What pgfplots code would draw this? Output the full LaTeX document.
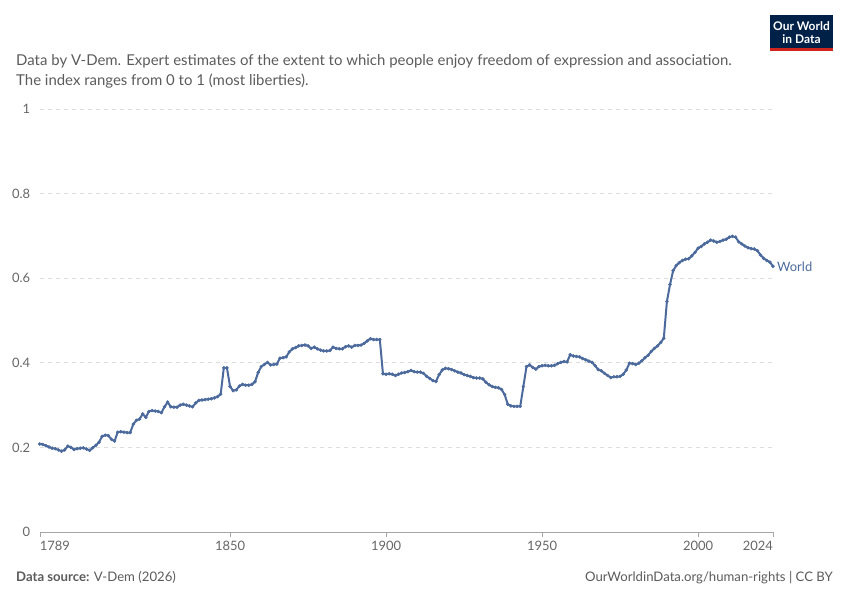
\documentclass[border=0pt]{standalone}
\usepackage{fontspec}
\setmainfont{Lato}
\usepackage{pgfplots}
\usepackage{pgfplotstable}
\pgfplotsset{compat=1.18}
\definecolor{owid}{HTML}{4C6A9C}
\definecolor{txtgray}{HTML}{5B5B5B}
\definecolor{tickgray}{HTML}{666666}
\definecolor{gridgray}{HTML}{DDDDDD}
\definecolor{navy}{HTML}{002147}
\definecolor{owidred}{HTML}{CE261E}
\pgfplotstableread{
year value
1789 .208
1790 .207
1791 .204
1792 .201
1793 .198
1794 .197
1795 .194
1796 .191
1797 .194
1798 .203
1799 .200
1800 .195
1801 .197
1802 .198
1803 .199
1804 .196
1805 .193
1806 .199
1807 .205
1808 .212
1809 .226
1810 .229
1811 .228
1812 .219
1813 .215
1814 .236
1815 .237
1816 .236
1817 .235
1818 .235
1819 .255
1820 .264
1821 .267
1822 .279
1823 .271
1824 .285
1825 .287
1826 .286
1827 .285
1828 .282
1829 .296
1830 .307
1831 .296
1832 .295
1833 .295
1834 .300
1835 .302
1836 .300
1837 .298
1838 .296
1839 .305
1840 .311
1841 .312
1842 .313
1843 .314
1844 .315
1845 .317
1846 .320
1847 .326
1848 .388
1849 .388
1850 .344
1851 .334
1852 .336
1853 .345
1854 .349
1855 .347
1856 .347
1857 .349
1858 .355
1859 .377
1860 .391
1861 .396
1862 .401
1863 .395
1864 .396
1865 .397
1866 .411
1867 .412
1868 .414
1869 .426
1870 .433
1871 .436
1872 .440
1873 .441
1874 .442
1875 .440
1876 .434
1877 .437
1878 .433
1879 .430
1880 .428
1881 .428
1882 .429
1883 .437
1884 .434
1885 .433
1886 .433
1887 .438
1888 .440
1889 .437
1890 .441
1891 .441
1892 .442
1893 .446
1894 .452
1895 .457
1896 .455
1897 .455
1898 .455
1899 .374
1900 .373
1901 .374
1902 .373
1903 .370
1904 .373
1905 .376
1906 .377
1907 .379
1908 .382
1909 .379
1910 .378
1911 .378
1912 .375
1913 .368
1914 .363
1915 .358
1916 .356
1917 .372
1918 .383
1919 .387
1920 .386
1921 .384
1922 .381
1923 .378
1924 .376
1925 .372
1926 .370
1927 .368
1928 .365
1929 .364
1930 .364
1931 .362
1932 .354
1933 .348
1934 .344
1935 .342
1936 .341
1937 .337
1938 .325
1939 .302
1940 .298
1941 .297
1942 .297
1943 .297
1944 .344
1945 .391
1946 .395
1947 .389
1948 .385
1949 .391
1950 .393
1951 .394
1952 .393
1953 .393
1954 .394
1955 .398
1956 .401
1957 .403
1958 .402
1959 .419
1960 .416
1961 .415
1962 .414
1963 .410
1964 .407
1965 .404
1966 .401
1967 .393
1968 .384
1969 .381
1970 .375
1971 .370
1972 .365
1973 .367
1974 .367
1975 .368
1976 .373
1977 .383
1978 .399
1979 .398
1980 .396
1981 .399
1982 .405
1983 .412
1984 .418
1985 .427
1986 .434
1987 .440
1988 .448
1989 .458
1990 .545
1991 .585
1992 .618
1993 .630
1994 .637
1995 .642
1996 .645
1997 .646
1998 .653
1999 .661
2000 .671
2001 .675
2002 .681
2003 .685
2004 .690
2005 .688
2006 .685
2007 .687
2008 .690
2009 .692
2010 .697
2011 .699
2012 .697
2013 .686
2014 .681
2015 .676
2016 .672
2017 .670
2018 .669
2019 .665
2020 .655
2021 .647
2022 .642
2023 .638
2024 .628
}\worlddata
\begin{document}
\begin{tikzpicture}
\path[use as bounding box] (0bp,0bp) rectangle (850bp,600bp);
% subtitle
\node[anchor=base west, inner sep=0, text=txtgray, font=\fontsize{15}{17}\selectfont] at (16bp,534bp) {Data by V-Dem. Expert estimates of the extent to which people enjoy freedom of expression and association.};
\node[anchor=base west, inner sep=0, text=txtgray, font=\fontsize{15}{17}\selectfont] at (16bp,514bp) {The index ranges from 0 to 1 (most liberties).};
% logo
\fill[navy] (770bp,552bp) rectangle (833bp,585bp);
\fill[owidred] (770bp,549bp) rectangle (833bp,552bp);
\node[text=white, font=\bfseries\fontsize{12}{13}\selectfont, inner sep=0] at (801.5bp,574bp) {Our World};
\node[text=white, font=\bfseries\fontsize{12}{13}\selectfont, inner sep=0] at (801.5bp,561bp) {in Data};
% footer
\node[anchor=base west, inner sep=0, text=txtgray, font=\fontsize{13.2}{15}\selectfont] at (16bp,19bp) {\textbf{Data source:} V-Dem (2026)};
\node[anchor=base east, inner sep=0, text=txtgray, font=\fontsize{13.2}{15}\selectfont] at (833bp,19bp) {OurWorldinData.org/human-rights | CC BY};
\begin{axis}[
  at={(39.7bp,68bp)}, anchor=south west,
  scale only axis, width=733.3bp, height=423bp,
  xmin=1789, xmax=2024, ymin=0, ymax=1,
  clip=false,
  axis lines*=left,
  x axis line style={draw=gray!70, -},
  y axis line style={draw=none, -},
  xtick={1789,1850,1900,1950,2000,2024},
  xticklabels={{},1850,1900,1950,2000,{}},
  ytick={0,0.2,0.4,0.6,0.8,1},
  yticklabels={0,0.2,0.4,0.6,0.8,1},
  tick align=outside,
  major tick length=5bp,
  xtick style={draw=gray!70},
  ytick style={draw=none},
  ymajorgrids,
  major grid style={draw=gridgray, dash pattern=on 4bp off 4bp, line width=0.8bp},
  /pgf/number format/assume math mode=true,
  /pgf/number format/1000 sep={},
  tick label style={text=tickgray, font=\fontsize{13}{13}\selectfont},
  xticklabel style={yshift=-1bp},
  yticklabel style={xshift=-1bp},
]
\addplot[color=owid, line width=2bp, mark=*, mark size=1.5bp, mark options={fill=owid, draw=owid, line width=0.5bp}] table[x=year, y=value] {\worlddata};
\node[anchor=north west, inner sep=0, text=tickgray, font=\fontsize{13}{13}\selectfont] at ([yshift=-9bp]axis cs:1789,0) {1789};
\node[anchor=north east, inner sep=0, text=tickgray, font=\fontsize{13}{13}\selectfont] at ([yshift=-9bp]axis cs:2024,0) {2024};
\node[anchor=west, inner sep=0, text=owid, font=\fontsize{13}{13}\selectfont] at ([xshift=4bp]axis cs:2024,0.628) {World};
\end{axis}
\end{tikzpicture}
\end{document}
